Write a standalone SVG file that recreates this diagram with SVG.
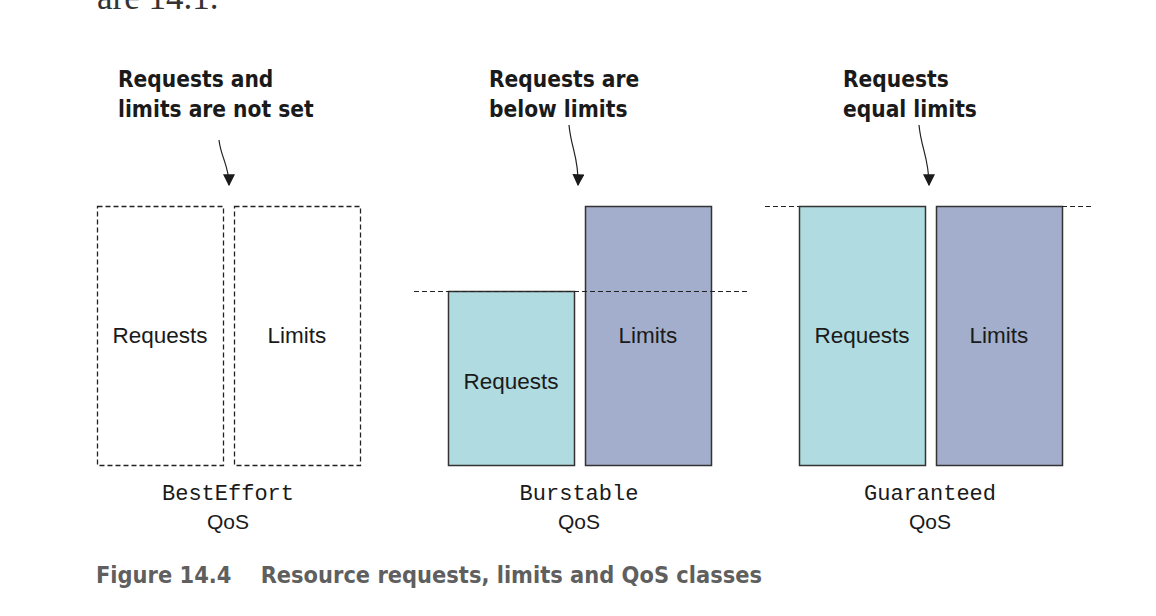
<svg xmlns="http://www.w3.org/2000/svg" width="1156" height="616" viewBox="0 0 1156 616">
<style>
.hd{font-family:"DejaVu Sans Condensed","DejaVu Sans",sans-serif;font-weight:bold;font-size:22.5px;fill:#1a1a1a}
.lbl{font-family:"Liberation Sans",Arial,sans-serif;font-size:22.5px;fill:#1a1a1a;text-anchor:middle;dominant-baseline:central}
.mono{font-family:"Liberation Mono","Courier New",monospace;font-size:22px;fill:#1a1a1a;text-anchor:middle}
.qos{font-family:"Liberation Sans",Arial,sans-serif;font-size:21px;fill:#1a1a1a;text-anchor:middle}
.dash{fill:#fff;stroke:#222;stroke-width:1.3;stroke-dasharray:5,3}
.req{fill:#b0dbe0;stroke:#333;stroke-width:1.5}
.lim{fill:#a2aecb;stroke:#333;stroke-width:1.5}
.ref{stroke:#222;stroke-width:1.2;stroke-dasharray:5,3;fill:none}
.arr{fill:none;stroke:#222;stroke-width:1.2;marker-end:url(#ah)}
</style>
<defs>
<marker id="ah" viewBox="0 0 10 10" refX="9" refY="5" markerWidth="12" markerHeight="12" markerUnits="userSpaceOnUse" orient="auto">
<path d="M0,0 L10,5 L0,10 z" fill="#1a1a1a"/>
</marker>
</defs>
<rect width="1156" height="616" fill="#fff"/>
<text x="97" y="9" font-family="Liberation Serif,'Times New Roman',serif" font-size="35" fill="#333">are 14.1.</text>

<g id="besteffort">
<text class="hd" x="118" y="87">Requests and</text>
<text class="hd" x="118" y="117">limits are not set</text>
<rect class="dash" x="97.5" y="206.5" width="126" height="259"/>
<rect class="dash" x="234.5" y="206.5" width="126" height="259"/>
<text class="lbl" x="160" y="335">Requests</text>
<text class="lbl" x="297" y="335">Limits</text>
<text class="mono" x="228" y="500">BestEffort</text>
<text class="qos" x="228" y="529">QoS</text>
</g>

<g id="burstable">
<text class="hd" x="489" y="87">Requests are</text>
<text class="hd" x="489" y="117">below limits</text>
<rect class="req" x="448.5" y="291.5" width="126" height="174"/>
<rect class="lim" x="585.5" y="206.5" width="126" height="259"/>
<text class="lbl" x="511" y="381">Requests</text>
<text class="lbl" x="648" y="335">Limits</text>
<text class="mono" x="579" y="500">Burstable</text>
<text class="qos" x="579" y="529">QoS</text>
</g>

<g id="guaranteed">
<text class="hd" x="843" y="87">Requests</text>
<text class="hd" x="843" y="117">equal limits</text>
<rect class="req" x="799.5" y="206.5" width="126" height="259"/>
<rect class="lim" x="936.5" y="206.5" width="126" height="259"/>
<text class="lbl" x="862" y="335">Requests</text>
<text class="lbl" x="999" y="335">Limits</text>
<text class="mono" x="930" y="500">Guaranteed</text>
<text class="qos" x="930" y="529">QoS</text>
</g>

<g id="connectors">
<path class="arr" d="M219,140 C221,158 229,165 229,185"/>
<path class="arr" d="M569,125 C571,148 579,158 578,185"/>
<path class="arr" d="M919,125 C921,148 929,158 929,185"/>
<line class="ref" x1="414" y1="291.5" x2="748" y2="291.5"/>
<line class="ref" x1="765" y1="206.5" x2="799" y2="206.5"/>
<line class="ref" x1="1062" y1="206.5" x2="1093" y2="206.5"/>
</g>

<text x="96" y="583" font-family="'DejaVu Sans Condensed','DejaVu Sans',sans-serif" font-weight="bold" font-size="23" fill="#5f5f5f" xml:space="preserve" textLength="666" lengthAdjust="spacingAndGlyphs">Figure 14.4    Resource requests, limits and QoS classes</text>
</svg>
